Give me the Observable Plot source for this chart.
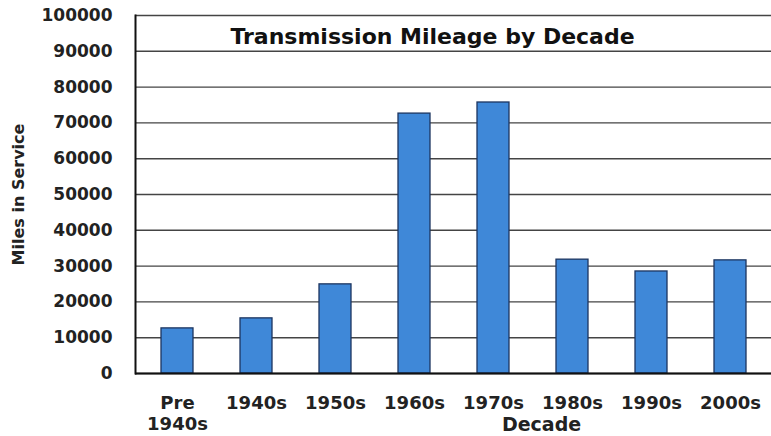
<!DOCTYPE html>
<html>
<head>
<meta charset="utf-8">
<script src="https://cdn.jsdelivr.net/npm/d3@7"></script>
<script src="https://cdn.jsdelivr.net/npm/@observablehq/plot@0.6"></script>
<style>
  html, body { margin: 0; padding: 0; background: #fff; }
  #chart svg { display: block; }
</style>
</head>
<body>
<div id="chart"></div>
<script>
const decades = ["Pre\n1940s", "1940s", "1950s", "1960s", "1970s", "1980s", "1990s", "2000s"];
const miles = [12600, 15400, 24900, 72600, 75700, 31800, 28500, 31600];
const yTicks = [0, 10000, 20000, 30000, 40000, 50000, 60000, 70000, 80000, 90000, 100000];
const titleText = "Transmission Mileage by Decade";
const yLabel = "Miles in Service";
const xLabel = "Decade";

const data = decades.map((d, i) => ({decade: d, miles: miles[i]}));
const font = "DejaVu Sans, Liberation Sans, sans-serif";

const chart = Plot.plot({
  width: 771,
  height: 436,
  marginLeft: 135,
  marginRight: 0,
  marginTop: 15,
  marginBottom: 63,
  style: {fontFamily: font, fontWeight: "bold", color: "#111", background: "#fff"},
  x: {domain: decades, paddingInner: 0.6, paddingOuter: 0.3, label: null},
  y: {domain: [0, 100000], label: null},
  marks: [
    Plot.ruleY(yTicks, {stroke: "#444", strokeWidth: 1.4}),
    Plot.barY(data, {x: "decade", y: "miles", fill: "#3f88d8", stroke: "#1c3560", strokeWidth: 1.3}),
    Plot.ruleY([0], {stroke: "#111", strokeWidth: 2}),
    Plot.frame({anchor: "left", stroke: "#111", strokeWidth: 2}),
    Plot.axisY({ticks: yTicks, tickSize: 0, tickPadding: 23, fontSize: 17, fontWeight: "bold", fill: "#222", label: null, tickFormat: d => String(d)}),
    Plot.axisX({tickSize: 0, tickPadding: 20, fontSize: 18, fontWeight: "bold", fill: "#222", lineHeight: 1.2, label: null}),
    Plot.text([titleText], {frameAnchor: "top", dy: 21, dx: -21, fontSize: 22, fontWeight: "bold", fill: "#111", lineAnchor: "middle"}),
    Plot.text([xLabel], {frameAnchor: "bottom", dx: 88, dy: 51, fontSize: 19, fontWeight: "bold", fill: "#222", lineAnchor: "middle"}),
    Plot.text([yLabel], {frameAnchor: "left", textAnchor: "middle", dx: -117, dy: 0, rotate: -90, fontSize: 16, fontWeight: "bold", fill: "#222"})
  ]
});
document.getElementById("chart").appendChild(chart);
</script>
</body>
</html>
